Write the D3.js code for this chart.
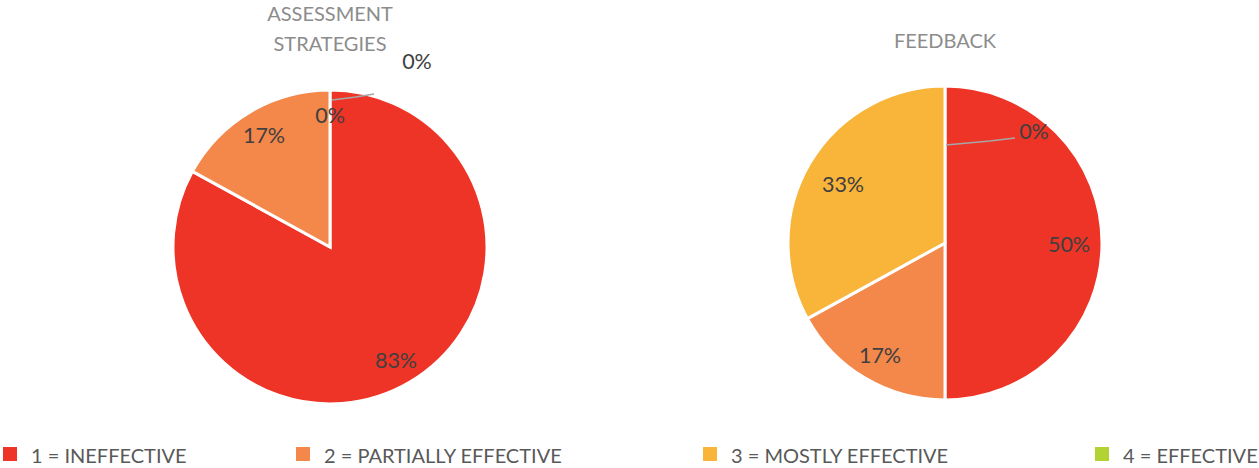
<!DOCTYPE html>
<html>
<head>
<meta charset="utf-8">
<script src="https://cdn.jsdelivr.net/npm/d3@7"></script>
<style>
  body { margin: 0; background: #fff; }
  text { font-family: Lato, "Open Sans", sans-serif; }
</style>
</head>
<body>
<svg id="chart" width="1259" height="468"></svg>
<script>
const categories = ["1 = INEFFECTIVE", "2 = PARTIALLY EFFECTIVE", "3 = MOSTLY EFFECTIVE", "4 = EFFECTIVE"];
const colors = ["#ee3426", "#f4874a", "#f9b43a", "#b3d334"];
const assessmentValues = [83, 17, 0, 0];
const feedbackValues = [50, 17, 33, 0];

// label positions (offsets relative to pie centre)
const assessmentLabelPos = [[66, 113], [-66, -112], [0, -132], [87, -186]];
const feedbackLabelPos = [[124, 1], [-65, 112], [-102, -59], [89, -112]];

const svg = d3.select("#chart");
const color = d3.scaleOrdinal().domain(categories).range(colors);

const pie = d3.pie().sort(null).value((d) => d.value);
const radius = 157;
const arc = d3.arc().innerRadius(0).outerRadius(radius);

function drawPie(cx, cy, titleLines, titleY, values, labelPos, leaders) {
  const g = svg.append("g").attr("transform", `translate(${cx},${cy})`);
  const data = categories.map((c, i) => ({ cat: c, value: values[i] }));
  const arcs = pie(data);

  g.selectAll("path")
    .data(arcs.filter((d) => d.data.value > 0))
    .join("path")
    .attr("d", arc)
    .attr("fill", (d) => color(d.data.cat))
    .attr("stroke", "#fff")
    .attr("stroke-width", 3);

  // leader lines for zero slices
  leaders.forEach((l) => {
    g.append("path")
      .attr("d", d3.line()(l))
      .attr("fill", "none")
      .attr("stroke", "#a6a6a6")
      .attr("stroke-width", 1.5);
  });

  g.selectAll(".lbl")
    .data(arcs)
    .join("text")
    .attr("class", "lbl")
    .attr("x", (d, i) => labelPos[i][0])
    .attr("y", (d, i) => labelPos[i][1])
    .attr("text-anchor", "middle")
    .attr("dominant-baseline", "central")
    .attr("font-size", 21.5)
    .attr("fill", "#404040")
    .text((d) => `${d.data.value}%`);

  titleLines.forEach((t, i) => {
    svg.append("text")
      .attr("x", cx)
      .attr("y", titleY + i * 30)
      .attr("text-anchor", "middle")
      .attr("dominant-baseline", "central")
      .attr("font-size", 20)
      .attr("fill", "#8c8c8c")
      .text(t);
  });
}

drawPie(330, 247, ["ASSESSMENT", "STRATEGIES"], 13, assessmentValues, assessmentLabelPos,
  [[[2, -147], [26, -150], [44, -153]]]);
drawPie(945, 243, ["FEEDBACK"], 40, feedbackValues, feedbackLabelPos,
  [[[1, -98], [45, -102], [70, -105]]]);

// legend
const legendX = [3, 296, 703, 1095];
const legend = svg.append("g");
categories.forEach((c, i) => {
  legend.append("rect")
    .attr("x", legendX[i])
    .attr("y", 447)
    .attr("width", 14)
    .attr("height", 14)
    .attr("fill", color(c));
  legend.append("text")
    .attr("x", legendX[i] + 28)
    .attr("y", 463)
    .attr("font-size", 20)
    .attr("fill", "#595959")
    .text(c);
});
</script>
</body>
</html>
